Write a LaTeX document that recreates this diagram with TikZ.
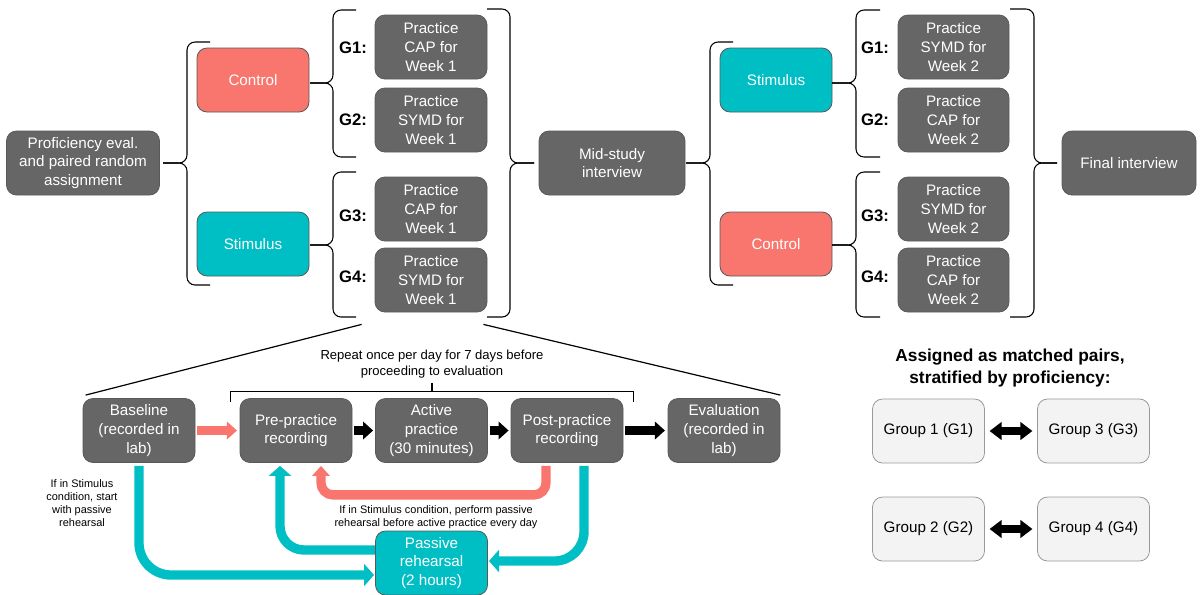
\documentclass[tikz,border=0pt]{standalone}
\usepackage{fontspec}
\setmainfont{Liberation Sans}
\usetikzlibrary{arrows.meta,calc}

\definecolor{boxgray}{HTML}{666666}
\definecolor{ctlred}{HTML}{F8766D}
\definecolor{stmteal}{HTML}{00BFC4}
\definecolor{lightbox}{HTML}{F3F3F3}

\tikzset{
  box/.style={draw=black!65, line width=0.6pt, rounded corners=7.5pt, fill=boxgray,
    text=white, align=center, minimum width=84pt, minimum height=48pt, inner sep=1pt,
    font=\fontsize{11.4}{14}\selectfont},
  ctlbox/.style={box, fill=ctlred},
  stmbox/.style={box, fill=stmteal},
  pairbox/.style={box, fill=lightbox, draw=black!40, text=black},
  glabel/.style={font=\bfseries\fontsize{12.5}{15}\selectfont},
  note/.style={align=center, font=\fontsize{8.2}{9.8}\selectfont},
  bracepath/.style={line width=0.8pt, rounded corners=6pt},
  flow/.style={line width=7pt, -{Triangle[length=7.5pt,width=13pt]}},
  tealflow/.style={line width=7pt, stmteal, -{Triangle[length=7.5pt,width=16.5pt]}},
}

\begin{document}
\begin{tikzpicture}[x=0.75pt, y=-0.75pt]
    \useasboundingbox (0,0) rectangle (1202,594);

    % Week 1
    \node[box, minimum width=114.75pt] (prof) at (83,163) {Proficiency eval.\\and paired random\\assignment};
    \node[ctlbox] (ctlA) at (253,80) {Control};
    \node[stmbox] (stmA) at (253,244) {Stimulus};
    \node[box] (wkA1) at (431,47) {Practice\\CAP for\\Week 1};
    \node[box] (wkA2) at (431,120) {Practice\\SYMD for\\Week 1};
    \node[box] (wkA3) at (431,209) {Practice\\CAP for\\Week 1};
    \node[box] (wkA4) at (431,280) {Practice\\SYMD for\\Week 1};
    \node[glabel] (gA1) at (353,48) {G1:};
    \node[glabel] (gA2) at (353,120) {G2:};
    \node[glabel] (gA3) at (353,216) {G3:};
    \node[glabel] (gA4) at (353,277) {G4:};

    % Week 2
    \node[box, minimum width=109.5pt] (mid) at (612,163) {Mid-study\\interview};
    \node[stmbox] (stmB) at (776,80) {Stimulus};
    \node[ctlbox] (ctlB) at (776,244) {Control};
    \node[box, minimum width=83.25pt] (wkB1) at (953.5,47) {Practice\\SYMD for\\Week 2};
    \node[box, minimum width=83.25pt] (wkB2) at (953.5,120) {Practice\\CAP for\\Week 2};
    \node[box, minimum width=83.25pt] (wkB3) at (953.5,209) {Practice\\SYMD for\\Week 2};
    \node[box, minimum width=83.25pt] (wkB4) at (953.5,280) {Practice\\CAP for\\Week 2};
    \node[glabel] (gB1) at (875,48) {G1:};
    \node[glabel] (gB2) at (875,120) {G2:};
    \node[glabel] (gB3) at (875,216) {G3:};
    \node[glabel] (gB4) at (875,277) {G4:};
    \node[box, minimum width=100.5pt] (final) at (1129,163) {Final interview};

    % Braces: end x / line x / tip x / top / middle / bottom
    \foreach \e/\v/\t/\a/\m/\b in {210/187/163/42/163/285, 356/333/310/10/83/157,
        356/333/310/172/245/317, 487/510/534/9/163/317, 733/710/686/42/163/285,
        880/856/832/10/83/157, 880/856/832/172/245/317, 1010/1034/1057/9/163/317}
    {
        \draw[bracepath] (\e,\a) -- (\v,\a) -- (\v,\m) -- (\t,\m);
        \draw[bracepath] (\t,\m) -- (\v,\m) -- (\v,\b) -- (\e,\b);
    }

    % Daily procedure
    \node[box] (base) at (139,430.5) {Baseline\\(recorded in\\lab)};
    \node[box] (pre) at (296,430.5) {Pre-practice\\recording};
    \node[box] (act) at (431.5,430.5) {Active\\practice\\(30 minutes)};
    \node[box] (post) at (567,430.5) {Post-practice\\recording};
    \node[box] (evalbox) at (724,430.5) {Evaluation\\(recorded in\\lab)};

    \draw[line width=0.9pt] ($(wkA4.south west)+(-13,12)$) -- ($(base.north west)+(3,-3)$);
    \draw[line width=0.9pt] ($(wkA4.south east)+(-4,12)$) -- ($(evalbox.north east)+(0,-3)$);

    \node[align=center, font=\fontsize{9.8}{11.5}\selectfont] (rep) at (432,364) {Repeat once per day for 7 days before\\proceeding to evaluation};
    \draw[line width=0.8pt] ($(pre.north west)+(-9,4)$) |- ($(post.north east)+(10,-7)$) -- ++(0,11);
    \draw[line width=0.8pt] (432,391) -- (432,383);

    \draw[flow, ctlred, shorten <=1.5pt, shorten >=2pt] (base.east) -- (pre.west);
    \draw[flow, shorten <=1.5pt, shorten >=1.5pt] (pre.east) -- (act.west);
    \draw[flow, shorten <=1.5pt, shorten >=1.5pt] (act.east) -- (post.west);
    \draw[flow, shorten <=1.5pt, shorten >=2pt] (post.east) -- (evalbox.west);

    % Passive rehearsal loops
    \draw[flow, ctlred, rounded corners=9pt] ($(post.south)+(-21,3)$) -- ($(post.south)+(-21,32)$) -| ($(pre.south)+(25,3)$);
    \draw[tealflow, rounded corners=24pt] ($(base.south)+(0,3)$) |- (374,575);
    \draw[tealflow, rounded corners=18pt] (377,550) -| ($(pre.south)+(-16,3)$);
    \draw[tealflow, rounded corners=22pt] ($(post.south)+(17,3)$) |- (489,561);
    \node[stmbox] (pas) at (431.5,563) {Passive\\rehearsal\\(2 hours)};

    \node[note] (stimnote) at (82,503) {If in Stimulus\\condition, start\\with passive\\rehearsal};
    \node[note] (dailynote) at (436,517) {If in Stimulus condition, perform passive\\rehearsal before active practice every day};

    % Matched pairs
    \node[align=center, font=\bfseries\fontsize{13}{15.8}\selectfont] (pairtitle) at (1010,368) {Assigned as matched pairs,\\stratified by proficiency:};
    \node[pairbox] (grp1) at (928.5,431) {Group 1 (G1)};
    \node[pairbox] (grp3) at (1093.5,431) {Group 3 (G3)};
    \node[pairbox] (grp2) at (928.5,529) {Group 2 (G2)};
    \node[pairbox] (grp4) at (1093.5,529) {Group 4 (G4)};
    \draw[line width=6.5pt, {Triangle[length=9pt,width=13pt]}-{Triangle[length=9pt,width=13pt]}, shorten <=3.5pt, shorten >=3.5pt] (grp1) -- (grp3);
    \draw[line width=6.5pt, {Triangle[length=9pt,width=13pt]}-{Triangle[length=9pt,width=13pt]}, shorten <=3.5pt, shorten >=3.5pt] (grp2) -- (grp4);
\end{tikzpicture}
\end{document}
